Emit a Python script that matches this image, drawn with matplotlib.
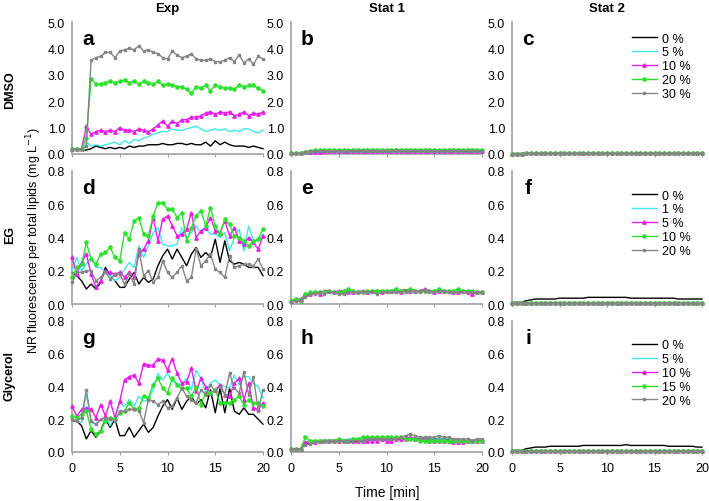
import matplotlib
matplotlib.use("Agg")
import matplotlib.pyplot as plt

plt.rcParams['font.family'] = ['Liberation Sans', 'DejaVu Sans']

# time axis, one reading every 0.5 min
t = [i * 0.5 for i in range(41)]

# ---------- DMSO ----------
dmso_labels = ['0 %', '5 %', '10 %', '20 %', '30 %']

dmso_exp_0 = [0.20, 0.20, 0.15, 0.15, 0.20, 0.30, 0.25, 0.20, 0.25, 0.20,
              0.25, 0.20, 0.30, 0.25, 0.30, 0.30, 0.35, 0.35, 0.35, 0.40,
              0.35, 0.35, 0.40, 0.40, 0.35, 0.40, 0.35, 0.35, 0.45, 0.30,
              0.50, 0.35, 0.45, 0.35, 0.30, 0.30, 0.30, 0.25, 0.30, 0.25,
              0.20]
dmso_exp_5 = [0.20, 0.20, 0.20, 0.45, 0.30, 0.35, 0.30, 0.35, 0.40, 0.45,
              0.35, 0.50, 0.40, 0.55, 0.50, 0.60, 0.65, 0.75, 0.80, 0.85,
              0.85, 0.95, 0.90, 0.90, 0.95, 1.00, 1.05, 0.95, 0.85, 0.90,
              0.95, 0.90, 0.95, 0.85, 0.90, 0.85, 0.95, 0.95, 0.85, 0.80,
              0.90]
dmso_exp_10 = [0.20, 0.20, 0.20, 1.05, 0.75, 0.85, 0.90, 0.85, 0.90, 0.85,
               1.00, 0.90, 0.90, 0.85, 0.95, 0.90, 0.85, 0.95, 1.10, 1.25,
               1.05, 1.25, 1.15, 1.30, 1.30, 1.40, 1.40, 1.45, 1.55, 1.60,
               1.50, 1.60, 1.55, 1.60, 1.45, 1.50, 1.60, 1.45, 1.55, 1.50,
               1.60]
dmso_exp_20 = [0.20, 0.20, 0.20, 0.60, 2.85, 2.65, 2.65, 2.70, 2.75, 2.70,
               2.75, 2.80, 2.70, 2.75, 2.65, 2.75, 2.70, 2.65, 2.75, 2.60,
               2.65, 2.60, 2.55, 2.55, 2.45, 2.30, 2.55, 2.50, 2.60, 2.40,
               2.60, 2.55, 2.50, 2.50, 2.45, 2.60, 2.55, 2.60, 2.60, 2.50,
               2.40]
dmso_exp_30 = [0.20, 0.20, 0.20, 0.30, 3.55, 3.65, 3.70, 3.85, 3.85, 3.65,
               3.90, 3.95, 4.00, 3.95, 4.10, 3.90, 3.95, 3.85, 3.80, 3.65,
               3.60, 3.90, 3.75, 3.65, 3.70, 3.80, 3.60, 3.55, 3.55, 3.60,
               3.50, 3.50, 3.55, 3.65, 3.50, 3.75, 3.45, 3.60, 3.40, 3.70,
               3.60]

dmso_st1_0 = [0.02, 0.02, 0.02, 0.05, 0.07, 0.08, 0.08, 0.09, 0.09, 0.09,
              0.10, 0.10, 0.10, 0.10, 0.10, 0.10, 0.11, 0.11, 0.11, 0.11,
              0.11, 0.11, 0.11, 0.11, 0.11, 0.11, 0.11, 0.11, 0.11, 0.11,
              0.11, 0.11, 0.11, 0.11, 0.11, 0.11, 0.11, 0.10, 0.10, 0.10,
              0.10]
dmso_st1_5 = [0.02, 0.02, 0.02, 0.03, 0.04, 0.04, 0.04, 0.05, 0.05, 0.05,
              0.05, 0.05, 0.05, 0.05, 0.05, 0.05, 0.05, 0.05, 0.05, 0.06,
              0.06, 0.06, 0.06, 0.06, 0.06, 0.06, 0.06, 0.06, 0.06, 0.06,
              0.06, 0.06, 0.06, 0.06, 0.06, 0.06, 0.06, 0.06, 0.06, 0.05,
              0.05]
dmso_st1_10 = [0.02, 0.02, 0.02, 0.06, 0.08, 0.09, 0.09, 0.10, 0.10, 0.10,
               0.11, 0.10, 0.11, 0.11, 0.10, 0.11, 0.11, 0.12, 0.11, 0.12,
               0.12, 0.12, 0.12, 0.12, 0.12, 0.13, 0.12, 0.12, 0.13, 0.12,
               0.12, 0.13, 0.12, 0.12, 0.13, 0.12, 0.12, 0.13, 0.12, 0.12,
               0.12]
dmso_st1_20 = [0.02, 0.02, 0.02, 0.09, 0.13, 0.14, 0.15, 0.15, 0.15, 0.16,
               0.16, 0.16, 0.16, 0.16, 0.17, 0.16, 0.17, 0.17, 0.17, 0.16,
               0.17, 0.17, 0.17, 0.17, 0.17, 0.17, 0.17, 0.16, 0.17, 0.17,
               0.17, 0.16, 0.17, 0.17, 0.17, 0.17, 0.16, 0.17, 0.17, 0.16,
               0.16]
dmso_st1_30 = [0.02, 0.02, 0.02, 0.07, 0.10, 0.11, 0.11, 0.12, 0.12, 0.12,
               0.12, 0.13, 0.13, 0.13, 0.13, 0.13, 0.13, 0.13, 0.13, 0.13,
               0.13, 0.13, 0.14, 0.13, 0.13, 0.13, 0.13, 0.13, 0.13, 0.13,
               0.13, 0.13, 0.13, 0.13, 0.13, 0.13, 0.13, 0.13, 0.13, 0.13,
               0.13]

dmso_st2_0 = [0.02, 0.02, 0.02, 0.03, 0.03, 0.03, 0.03, 0.03, 0.03, 0.03,
              0.03, 0.03, 0.03, 0.03, 0.03, 0.03, 0.03, 0.03, 0.03, 0.03,
              0.03, 0.03, 0.03, 0.03, 0.03, 0.03, 0.03, 0.03, 0.03, 0.03,
              0.03, 0.03, 0.03, 0.03, 0.03, 0.03, 0.03, 0.03, 0.03, 0.03,
              0.03]
dmso_st2_5 = [0.01, 0.01, 0.01, 0.02, 0.02, 0.02, 0.02, 0.02, 0.02, 0.02,
              0.02, 0.02, 0.02, 0.02, 0.02, 0.02, 0.02, 0.02, 0.02, 0.02,
              0.02, 0.02, 0.02, 0.02, 0.02, 0.02, 0.02, 0.02, 0.02, 0.02,
              0.02, 0.02, 0.02, 0.02, 0.02, 0.02, 0.02, 0.02, 0.02, 0.02,
              0.02]
dmso_st2_10 = [0.01, 0.01, 0.01, 0.02, 0.02, 0.02, 0.02, 0.02, 0.02, 0.02,
               0.02, 0.02, 0.02, 0.02, 0.02, 0.02, 0.02, 0.02, 0.02, 0.02,
               0.02, 0.02, 0.02, 0.02, 0.02, 0.02, 0.02, 0.02, 0.02, 0.02,
               0.02, 0.02, 0.02, 0.02, 0.02, 0.02, 0.02, 0.02, 0.02, 0.02,
               0.02]
dmso_st2_20 = [0.01, 0.01, 0.01, 0.02, 0.02, 0.02, 0.02, 0.02, 0.02, 0.02,
               0.02, 0.02, 0.02, 0.02, 0.02, 0.02, 0.02, 0.02, 0.02, 0.02,
               0.02, 0.02, 0.02, 0.02, 0.02, 0.02, 0.02, 0.02, 0.02, 0.02,
               0.02, 0.02, 0.02, 0.02, 0.02, 0.02, 0.02, 0.02, 0.02, 0.02,
               0.02]
dmso_st2_30 = [0.01, 0.01, 0.01, 0.02, 0.02, 0.02, 0.02, 0.02, 0.02, 0.02,
               0.02, 0.02, 0.02, 0.02, 0.02, 0.02, 0.02, 0.02, 0.02, 0.02,
               0.02, 0.02, 0.02, 0.02, 0.02, 0.02, 0.02, 0.02, 0.02, 0.02,
               0.02, 0.02, 0.02, 0.02, 0.02, 0.02, 0.02, 0.02, 0.02, 0.02,
               0.02]

# ---------- EG ----------
eg_labels = ['0 %', '1 %', '5 %', '10 %', '20 %']

eg_exp_0 = [0.19, 0.17, 0.14, 0.09, 0.12, 0.09, 0.13, 0.22, 0.17, 0.14,
            0.10, 0.10, 0.15, 0.19, 0.12, 0.16, 0.13, 0.15, 0.23, 0.29,
            0.33, 0.27, 0.33, 0.28, 0.23, 0.30, 0.34, 0.28, 0.31, 0.28,
            0.39, 0.25, 0.38, 0.26, 0.24, 0.25, 0.24, 0.22, 0.22, 0.22,
            0.17]
eg_exp_1 = [0.20, 0.28, 0.20, 0.24, 0.28, 0.22, 0.22, 0.19, 0.17, 0.14,
            0.16, 0.21, 0.25, 0.22, 0.35, 0.28, 0.35, 0.43, 0.46, 0.36,
            0.35, 0.35, 0.36, 0.46, 0.40, 0.43, 0.47, 0.43, 0.45, 0.42,
            0.42, 0.40, 0.43, 0.32, 0.40, 0.45, 0.32, 0.47, 0.38, 0.38,
            0.42]
eg_exp_5 = [0.28, 0.18, 0.25, 0.30, 0.18, 0.10, 0.14, 0.20, 0.19, 0.18,
            0.19, 0.16, 0.19, 0.16, 0.30, 0.33, 0.38, 0.52, 0.38, 0.51,
            0.53, 0.47, 0.41, 0.42, 0.45, 0.55, 0.40, 0.44, 0.46, 0.52,
            0.44, 0.43, 0.50, 0.41, 0.46, 0.38, 0.36, 0.40, 0.37, 0.33,
            0.41]
eg_exp_10 = [0.16, 0.22, 0.24, 0.37, 0.27, 0.24, 0.30, 0.31, 0.34, 0.28,
             0.26, 0.43, 0.39, 0.50, 0.52, 0.42, 0.41, 0.53, 0.61, 0.61,
             0.57, 0.57, 0.52, 0.55, 0.38, 0.46, 0.53, 0.56, 0.47, 0.58,
             0.47, 0.42, 0.51, 0.48, 0.41, 0.40, 0.38, 0.35, 0.38, 0.39,
             0.45]
eg_exp_20 = [0.13, 0.19, 0.19, 0.20, 0.20, 0.14, 0.16, 0.19, 0.15, 0.18,
             0.18, 0.12, 0.18, 0.12, 0.33, 0.17, 0.20, 0.13, 0.16, 0.26,
             0.19, 0.16, 0.19, 0.23, 0.14, 0.16, 0.33, 0.23, 0.26, 0.30,
             0.21, 0.19, 0.16, 0.29, 0.22, 0.23, 0.24, 0.24, 0.23, 0.27,
             0.21]

eg_st1_0 = [0.02, 0.02, 0.02, 0.04, 0.06, 0.065, 0.07, 0.065, 0.07, 0.07,
            0.07, 0.07, 0.07, 0.07, 0.075, 0.075, 0.075, 0.075, 0.08, 0.08,
            0.08, 0.08, 0.08, 0.08, 0.085, 0.085, 0.08, 0.08, 0.08, 0.08,
            0.08, 0.08, 0.08, 0.075, 0.075, 0.075, 0.075, 0.075, 0.07, 0.07,
            0.07]
eg_st1_1 = [0.02, 0.02, 0.02, 0.05, 0.06, 0.07, 0.07, 0.07, 0.07, 0.07,
            0.07, 0.075, 0.075, 0.075, 0.075, 0.075, 0.08, 0.08, 0.08, 0.08,
            0.08, 0.08, 0.08, 0.08, 0.08, 0.08, 0.08, 0.08, 0.08, 0.08,
            0.08, 0.08, 0.075, 0.075, 0.075, 0.075, 0.07, 0.07, 0.07, 0.07,
            0.07]
eg_st1_5 = [0.02, 0.03, 0.03, 0.06, 0.06, 0.07, 0.06, 0.08, 0.08, 0.07,
            0.08, 0.08, 0.07, 0.07, 0.07, 0.08, 0.07, 0.08, 0.08, 0.07,
            0.08, 0.08, 0.08, 0.07, 0.08, 0.08, 0.08, 0.08, 0.09, 0.08,
            0.07, 0.08, 0.08, 0.08, 0.07, 0.07, 0.08, 0.07, 0.06, 0.07,
            0.07]
eg_st1_10 = [0.02, 0.03, 0.02, 0.06, 0.07, 0.07, 0.07, 0.07, 0.08, 0.07,
             0.07, 0.08, 0.09, 0.08, 0.07, 0.07, 0.08, 0.08, 0.08, 0.08,
             0.08, 0.08, 0.09, 0.08, 0.08, 0.09, 0.08, 0.08, 0.08, 0.08,
             0.08, 0.09, 0.08, 0.08, 0.08, 0.09, 0.08, 0.08, 0.08, 0.07,
             0.07]
eg_st1_20 = [0.01, 0.02, 0.02, 0.04, 0.06, 0.06, 0.07, 0.06, 0.07, 0.07,
             0.06, 0.06, 0.07, 0.07, 0.07, 0.07, 0.07, 0.07, 0.06, 0.07,
             0.07, 0.07, 0.07, 0.07, 0.08, 0.08, 0.08, 0.08, 0.08, 0.08,
             0.07, 0.08, 0.08, 0.07, 0.07, 0.07, 0.07, 0.07, 0.07, 0.07,
             0.07]

eg_st2_0 = [0.01, 0.01, 0.01, 0.02, 0.025, 0.03, 0.03, 0.03, 0.03, 0.03,
            0.035, 0.035, 0.035, 0.035, 0.035, 0.035, 0.04, 0.04, 0.04, 0.04,
            0.04, 0.04, 0.04, 0.04, 0.04, 0.035, 0.035, 0.035, 0.035, 0.035,
            0.035, 0.035, 0.035, 0.035, 0.035, 0.03, 0.03, 0.03, 0.03, 0.03,
            0.03]
eg_st2_1 = [0.005, 0.005, 0.005, 0.008, 0.008, 0.008, 0.008, 0.008, 0.008, 0.008,
            0.008, 0.008, 0.008, 0.008, 0.008, 0.008, 0.008, 0.008, 0.008, 0.008,
            0.008, 0.008, 0.008, 0.008, 0.008, 0.008, 0.008, 0.008, 0.008, 0.008,
            0.008, 0.008, 0.008, 0.008, 0.008, 0.008, 0.008, 0.008, 0.008, 0.008,
            0.008]
eg_st2_5 = [0.005, 0.005, 0.005, 0.007, 0.007, 0.007, 0.007, 0.007, 0.007, 0.007,
            0.007, 0.007, 0.007, 0.007, 0.007, 0.007, 0.007, 0.007, 0.007, 0.007,
            0.007, 0.007, 0.007, 0.007, 0.007, 0.007, 0.007, 0.007, 0.007, 0.007,
            0.007, 0.007, 0.007, 0.007, 0.007, 0.007, 0.007, 0.007, 0.007, 0.007,
            0.007]
eg_st2_10 = [0.005, 0.005, 0.005, 0.009, 0.009, 0.009, 0.009, 0.009, 0.009, 0.009,
             0.009, 0.009, 0.009, 0.009, 0.009, 0.009, 0.009, 0.009, 0.009, 0.009,
             0.009, 0.009, 0.009, 0.009, 0.009, 0.009, 0.009, 0.009, 0.009, 0.009,
             0.009, 0.009, 0.009, 0.009, 0.009, 0.009, 0.009, 0.009, 0.009, 0.009,
             0.009]
eg_st2_20 = [0.005, 0.005, 0.005, 0.006, 0.006, 0.006, 0.006, 0.006, 0.006, 0.006,
             0.006, 0.006, 0.006, 0.006, 0.006, 0.006, 0.006, 0.006, 0.006, 0.006,
             0.006, 0.006, 0.006, 0.006, 0.006, 0.006, 0.006, 0.006, 0.006, 0.006,
             0.006, 0.006, 0.006, 0.006, 0.006, 0.006, 0.006, 0.006, 0.006, 0.006,
             0.006]

# ---------- Glycerol ----------
gly_labels = ['0 %', '5 %', '10 %', '15 %', '20 %']

gly_exp_0 = [0.19, 0.19, 0.16, 0.08, 0.13, 0.09, 0.13, 0.20, 0.15, 0.20,
             0.10, 0.10, 0.15, 0.09, 0.13, 0.17, 0.12, 0.15, 0.22, 0.28,
             0.32, 0.26, 0.33, 0.26, 0.31, 0.34, 0.29, 0.32, 0.27, 0.38,
             0.24, 0.39, 0.24, 0.39, 0.25, 0.23, 0.27, 0.23, 0.23, 0.20,
             0.17]
gly_exp_5 = [0.20, 0.19, 0.18, 0.36, 0.18, 0.17, 0.19, 0.22, 0.16, 0.22,
             0.30, 0.28, 0.32, 0.28, 0.34, 0.31, 0.32, 0.38, 0.48, 0.44,
             0.48, 0.43, 0.42, 0.41, 0.45, 0.38, 0.50, 0.45, 0.36, 0.42,
             0.44, 0.41, 0.40, 0.39, 0.47, 0.41, 0.46, 0.46, 0.42, 0.40,
             0.33]
gly_exp_10 = [0.28, 0.22, 0.26, 0.27, 0.26, 0.21, 0.29, 0.22, 0.31, 0.21,
              0.31, 0.44, 0.46, 0.47, 0.42, 0.54, 0.53, 0.53, 0.57, 0.56,
              0.50, 0.57, 0.48, 0.42, 0.43, 0.51, 0.37, 0.45, 0.40, 0.36,
              0.38, 0.41, 0.35, 0.34, 0.42, 0.45, 0.32, 0.42, 0.27, 0.26,
              0.30]
gly_exp_15 = [0.22, 0.21, 0.23, 0.25, 0.14, 0.11, 0.13, 0.19, 0.21, 0.20,
              0.24, 0.25, 0.30, 0.26, 0.27, 0.34, 0.33, 0.41, 0.45, 0.39,
              0.36, 0.45, 0.41, 0.39, 0.39, 0.34, 0.40, 0.29, 0.36, 0.36,
              0.38, 0.30, 0.30, 0.30, 0.32, 0.34, 0.29, 0.32, 0.30, 0.30,
              0.28]
gly_exp_20 = [0.20, 0.19, 0.21, 0.38, 0.19, 0.17, 0.20, 0.21, 0.20, 0.19,
              0.25, 0.25, 0.26, 0.26, 0.25, 0.18, 0.32, 0.31, 0.29, 0.31,
              0.27, 0.28, 0.33, 0.39, 0.34, 0.32, 0.30, 0.38, 0.35, 0.41,
              0.37, 0.40, 0.35, 0.48, 0.39, 0.36, 0.49, 0.35, 0.46, 0.25,
              0.38]

gly_st1_0 = [0.02, 0.02, 0.02, 0.05, 0.05, 0.06, 0.06, 0.06, 0.065, 0.065,
             0.07, 0.07, 0.065, 0.06, 0.065, 0.07, 0.07, 0.075, 0.075, 0.075,
             0.075, 0.08, 0.08, 0.08, 0.08, 0.08, 0.085, 0.08, 0.08, 0.08,
             0.08, 0.08, 0.08, 0.075, 0.075, 0.07, 0.07, 0.07, 0.07, 0.07,
             0.07]
gly_st1_5 = [0.02, 0.02, 0.02, 0.06, 0.07, 0.07, 0.07, 0.07, 0.07, 0.075,
             0.075, 0.075, 0.08, 0.08, 0.08, 0.08, 0.08, 0.08, 0.08, 0.08,
             0.08, 0.08, 0.085, 0.085, 0.085, 0.085, 0.085, 0.08, 0.08, 0.08,
             0.08, 0.08, 0.08, 0.08, 0.075, 0.07, 0.06, 0.06, 0.07, 0.07,
             0.07]
gly_st1_10 = [0.02, 0.02, 0.02, 0.06, 0.06, 0.06, 0.07, 0.07, 0.07, 0.07,
              0.07, 0.07, 0.07, 0.07, 0.07, 0.07, 0.07, 0.07, 0.07, 0.08,
              0.07, 0.07, 0.08, 0.08, 0.08, 0.09, 0.08, 0.08, 0.08, 0.07,
              0.07, 0.07, 0.07, 0.07, 0.06, 0.06, 0.06, 0.07, 0.07, 0.07,
              0.07]
gly_st1_15 = [0.02, 0.02, 0.02, 0.09, 0.07, 0.07, 0.07, 0.07, 0.07, 0.07,
              0.08, 0.07, 0.07, 0.08, 0.08, 0.09, 0.09, 0.09, 0.09, 0.09,
              0.09, 0.09, 0.09, 0.09, 0.08, 0.08, 0.08, 0.07, 0.07, 0.07,
              0.07, 0.07, 0.07, 0.07, 0.07, 0.07, 0.07, 0.07, 0.07, 0.07,
              0.07]
gly_st1_20 = [0.02, 0.02, 0.02, 0.04, 0.05, 0.06, 0.06, 0.07, 0.07, 0.07,
              0.07, 0.07, 0.07, 0.07, 0.07, 0.07, 0.08, 0.08, 0.08, 0.08,
              0.08, 0.08, 0.08, 0.09, 0.10, 0.11, 0.10, 0.09, 0.09, 0.09,
              0.09, 0.10, 0.09, 0.09, 0.08, 0.08, 0.08, 0.08, 0.07, 0.08,
              0.08]

gly_st2_0 = [0.01, 0.01, 0.01, 0.02, 0.025, 0.03, 0.03, 0.03, 0.035, 0.035,
             0.035, 0.035, 0.035, 0.035, 0.035, 0.04, 0.04, 0.04, 0.04, 0.04,
             0.04, 0.04, 0.04, 0.04, 0.045, 0.04, 0.04, 0.04, 0.04, 0.04,
             0.04, 0.04, 0.04, 0.035, 0.035, 0.035, 0.035, 0.035, 0.035, 0.03,
             0.03]
gly_st2_5 = [0.005, 0.005, 0.005, 0.008, 0.008, 0.008, 0.008, 0.008, 0.008, 0.008,
             0.008, 0.008, 0.008, 0.008, 0.008, 0.008, 0.008, 0.008, 0.008, 0.008,
             0.008, 0.008, 0.008, 0.008, 0.008, 0.008, 0.008, 0.008, 0.008, 0.008,
             0.008, 0.008, 0.008, 0.008, 0.008, 0.008, 0.008, 0.008, 0.008, 0.008,
             0.008]
gly_st2_10 = [0.005, 0.005, 0.005, 0.007, 0.007, 0.007, 0.007, 0.007, 0.007, 0.007,
              0.007, 0.007, 0.007, 0.007, 0.007, 0.007, 0.007, 0.007, 0.007, 0.007,
              0.007, 0.007, 0.007, 0.007, 0.007, 0.007, 0.007, 0.007, 0.007, 0.007,
              0.007, 0.007, 0.007, 0.007, 0.007, 0.007, 0.007, 0.007, 0.007, 0.007,
              0.007]
gly_st2_15 = [0.005, 0.005, 0.005, 0.009, 0.009, 0.009, 0.009, 0.009, 0.009, 0.009,
              0.009, 0.009, 0.009, 0.009, 0.009, 0.009, 0.009, 0.009, 0.009, 0.009,
              0.009, 0.009, 0.009, 0.009, 0.009, 0.009, 0.009, 0.009, 0.009, 0.009,
              0.009, 0.009, 0.009, 0.009, 0.009, 0.009, 0.009, 0.009, 0.009, 0.009,
              0.009]
gly_st2_20 = [0.005, 0.005, 0.005, 0.006, 0.006, 0.006, 0.006, 0.006, 0.006, 0.006,
              0.006, 0.006, 0.006, 0.006, 0.006, 0.006, 0.006, 0.006, 0.006, 0.006,
              0.006, 0.006, 0.006, 0.006, 0.006, 0.006, 0.006, 0.006, 0.006, 0.006,
              0.006, 0.006, 0.006, 0.006, 0.006, 0.006, 0.006, 0.006, 0.006, 0.006,
              0.006]

# style per concentration level (same order in every row)
colors = ['black', '#40e8e8', '#e81ee8', '#2ee02e', '#858585']
markers = [None, None, '^', 'o', 's']
msizes = [0, 0, 2.4, 2.3, 1.9]

rows = [
    ('DMSO', dmso_labels, 5.0, 1.0,
     [[dmso_exp_0, dmso_exp_5, dmso_exp_10, dmso_exp_20, dmso_exp_30],
      [dmso_st1_0, dmso_st1_5, dmso_st1_10, dmso_st1_20, dmso_st1_30],
      [dmso_st2_0, dmso_st2_5, dmso_st2_10, dmso_st2_20, dmso_st2_30]]),
    ('EG', eg_labels, 0.8, 0.2,
     [[eg_exp_0, eg_exp_1, eg_exp_5, eg_exp_10, eg_exp_20],
      [eg_st1_0, eg_st1_1, eg_st1_5, eg_st1_10, eg_st1_20],
      [eg_st2_0, eg_st2_1, eg_st2_5, eg_st2_10, eg_st2_20]]),
    ('Glycerol', gly_labels, 0.8, 0.2,
     [[gly_exp_0, gly_exp_5, gly_exp_10, gly_exp_15, gly_exp_20],
      [gly_st1_0, gly_st1_5, gly_st1_10, gly_st1_15, gly_st1_20],
      [gly_st2_0, gly_st2_5, gly_st2_10, gly_st2_15, gly_st2_20]]),
]
col_titles = ['Exp', 'Stat 1', 'Stat 2']
letters = 'abcdefghi'

W, H = 709, 502
fig = plt.figure(figsize=(W / 100, H / 100), dpi=100)

# axes boxes in pixels: (left, right), (top, bottom)
col_px = [(72, 263), (291, 482), (512, 702)]
row_px = [(23, 155), (172, 305), (322, 453)]
legend_top = [0.92, 0.86, 0.86]
row_label_y = [90, 235, 376]

spine_col = '#a0a0a0'

for r, (rname, labels, ymax, ystep, panels) in enumerate(rows):
    top, bot = row_px[r]
    for c in range(3):
        left, right = col_px[c]
        ax = fig.add_axes([left / W, 1 - bot / H, (right - left) / W, (bot - top) / H])
        for k in range(5):
            ax.plot(t, panels[c][k], color=colors[k], marker=markers[k],
                    markersize=msizes[k], lw=1, label=labels[k], clip_on=False,
                    zorder=2 + k)
        ax.set_xlim(0, 20)
        ax.set_ylim(0, ymax)
        ax.set_xticks([0, 5, 10, 15, 20])
        nt = int(round(ymax / ystep))
        ax.set_yticks([i * ystep for i in range(nt + 1)])
        ax.yaxis.set_major_formatter(matplotlib.ticker.FormatStrFormatter('%.1f'))
        for s in ['top', 'right']:
            ax.spines[s].set_visible(False)
        for s in ['left', 'bottom']:
            ax.spines[s].set_color(spine_col)
            ax.spines[s].set_linewidth(1.2)
        ax.tick_params(axis='x', direction='out', length=2, color=spine_col,
                       labelsize=9, pad=5)
        ax.tick_params(axis='y', length=0, labelsize=9, pad=5)
        if r < 2:
            ax.tick_params(axis='x', labelbottom=False)
        ax.text(0.085, 0.95, letters[r * 3 + c], transform=ax.transAxes,
                fontsize=15, fontweight='bold', ha='center', va='top')
        if c == 2:
            ax.legend(loc='upper left', bbox_to_anchor=(0.63, legend_top[r]),
                      frameon=False, fontsize=9, handlelength=2.0,
                      handletextpad=0.4, labelspacing=0.15, borderpad=0,
                      borderaxespad=0, numpoints=1)
        if r == 0:
            fig.text((left + right) / 2 / W, 1 - 9 / H, col_titles[c],
                     ha='center', va='center', fontsize=9.5, fontweight='bold')
    fig.text(10 / W, 1 - row_label_y[r] / H, rname, rotation=90,
             ha='center', va='center', fontsize=9, fontweight='bold')

fig.text(34 / W, 1 - 240 / H, 'NR fluorescence per total lipids (mg L$^{-1}$)',
         rotation=90, ha='center', va='center', fontsize=9)
fig.text(387 / W, 1 - 493 / H, 'Time [min]', ha='center', va='center', fontsize=10)

fig.savefig('out.png', dpi=100)
